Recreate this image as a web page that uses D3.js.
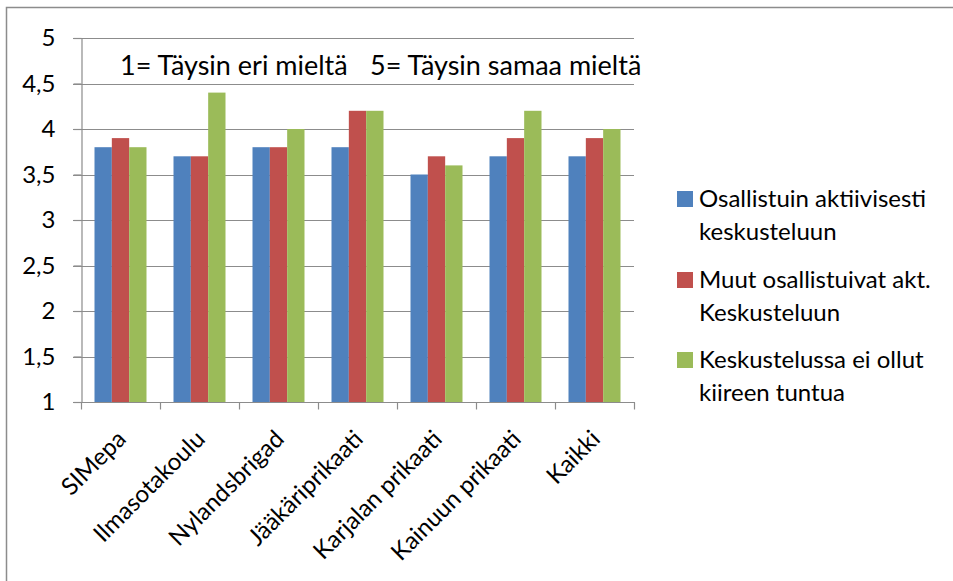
<!DOCTYPE html>
<html>
<head>
<meta charset="utf-8">
<script src="https://cdn.jsdelivr.net/npm/d3@7"></script>
<style>
  body { margin: 0; background: #fff; }
  text { font-family: Lato, "Open Sans", sans-serif; fill: #000; }
</style>
</head>
<body>
<svg width="953" height="581"></svg>
<script>
var categories = ["SIMepa", "Ilmasotakoulu", "Nylandsbrigad", "Jääkäriprikaati", "Karjalan prikaati", "Kainuun prikaati", "Kaikki"];
var seriesNames = [
  ["Osallistuin aktiivisesti", "keskusteluun"],
  ["Muut osallistuivat akt.", "Keskusteluun"],
  ["Keskustelussa ei ollut", "kiireen tuntua"]
];
var osallistuin = [3.8, 3.7, 3.8, 3.8, 3.5, 3.7, 3.7];
var muut = [3.9, 3.7, 3.8, 4.2, 3.7, 3.9, 3.9];
var kiire = [3.8, 4.4, 4.0, 4.2, 3.6, 4.2, 4.0];
var colors = ["#4F81BD", "#C0504D", "#9BBB59"];
var yTicks = [1, 1.5, 2, 2.5, 3, 3.5, 4, 4.5, 5];
var noteParts = ["1= Täysin eri mieltä", "5= Täysin samaa mieltä"];

(function() {
var values = [osallistuin, muut, kiire];
var svg = d3.select("svg");

// outer chart frame (only top/left visible in the picture)
svg.append("rect")
  .attr("x", 6.5).attr("y", 7.5)
  .attr("width", 960).attr("height", 600)
  .attr("fill", "none").attr("stroke", "#8c8c8c").attr("stroke-width", 1.5);

var plotLeft = 81, plotRight = 634, plotTop = 38, plotBottom = 402;

var x = d3.scaleBand().domain(categories).range([plotLeft, plotRight]);
var x1 = d3.scaleBand().domain([0, 1, 2]).range([13.5, x.bandwidth() - 13.5]);
var y = d3.scaleLinear().domain([1, 5]).range([plotBottom, plotTop]);

var g = svg.append("g");

// gridlines
g.selectAll(".grid").data(yTicks).enter().append("line")
  .attr("x1", plotLeft - 8).attr("x2", plotRight)
  .attr("y1", function(d) { return Math.round(y(d)) + 0.5; })
  .attr("y2", function(d) { return Math.round(y(d)) + 0.5; })
  .attr("stroke", "#8c8c8c").attr("stroke-width", 1.2);

// y axis
var yAxis = g.append("g")
  .attr("transform", "translate(" + (plotLeft + 0.5) + ",0)")
  .call(d3.axisLeft(y).tickValues(yTicks).tickSize(8).tickPadding(18)
    .tickFormat(function(d) { return String(d).replace(".", ","); }));
yAxis.select(".domain").attr("stroke", "#8c8c8c").attr("stroke-width", 1.2);
yAxis.selectAll(".tick line").attr("stroke", "#8c8c8c").attr("stroke-width", 1.2);
yAxis.selectAll("text").attr("font-size", 24).attr("font-family", "Lato, sans-serif").attr("fill", "#000");

// bars
categories.forEach(function(c, i) {
  values.forEach(function(s, k) {
    g.append("rect")
      .attr("x", x(c) + x1(k))
      .attr("y", y(s[i]))
      .attr("width", x1.bandwidth())
      .attr("height", y(1) - y(s[i]))
      .attr("fill", colors[k]);
  });
});

// x axis
var xAxis = g.append("g")
  .attr("transform", "translate(0," + (plotBottom + 0.5) + ")");
xAxis.append("line").attr("x1", plotLeft).attr("x2", plotRight + 1)
  .attr("stroke", "#8c8c8c").attr("stroke-width", 1.2);
var bounds = categories.map(function(c) { return x(c); }).concat([plotRight]);
xAxis.selectAll(".xt").data(bounds).enter().append("line")
  .attr("x1", function(d) { return Math.round(d) + 0.5; })
  .attr("x2", function(d) { return Math.round(d) + 0.5; })
  .attr("y1", 0).attr("y2", 7)
  .attr("stroke", "#8c8c8c").attr("stroke-width", 1.2);
xAxis.selectAll(".xl").data(categories).enter().append("text")
  .attr("transform", function(d) {
    return "translate(" + (x(d) + x.bandwidth() / 2 + 7) + ",38) rotate(-45)";
  })
  .attr("text-anchor", "end")
  .attr("font-size", 24)
  .text(function(d) { return d; });

// note text
svg.append("text").attr("x", 120).attr("y", 75).attr("font-size", 27).text(noteParts[0]);
svg.append("text").attr("x", 370).attr("y", 75).attr("font-size", 27).text(noteParts[1]);

// legend
var legend = svg.append("g").attr("transform", "translate(677,0)");
var legendY = [199, 280, 360];
seriesNames.forEach(function(lines, k) {
  legend.append("rect")
    .attr("x", 0).attr("y", legendY[k] - 8)
    .attr("width", 16).attr("height", 16)
    .attr("fill", colors[k]);
  lines.forEach(function(t, j) {
    legend.append("text")
      .attr("x", 22).attr("y", legendY[k] + j * 33)
      .attr("dy", "0.35em")
      .attr("font-size", 24)
      .text(t);
  });
});
})();
</script>
</body>
</html>
